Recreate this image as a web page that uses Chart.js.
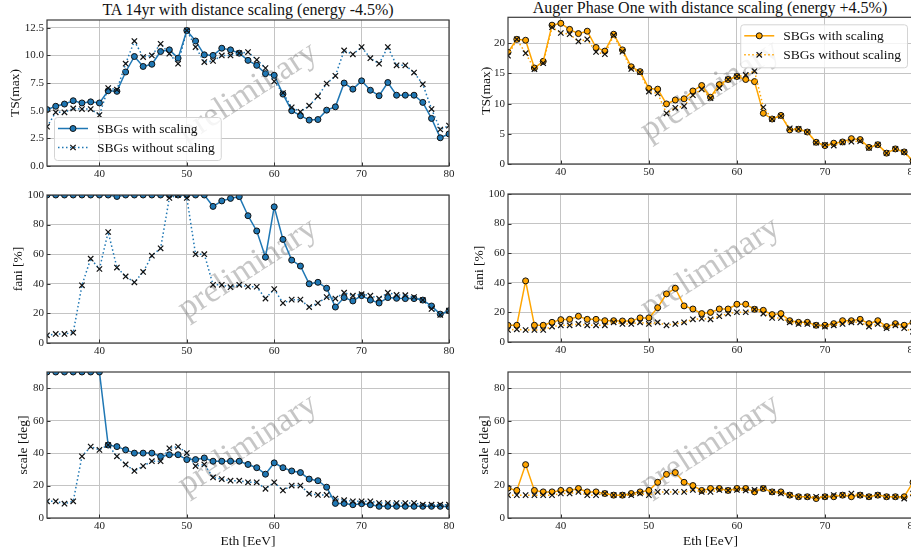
<!DOCTYPE html>
<html>
<head>
<meta charset="utf-8">
<script src="https://cdn.jsdelivr.net/npm/chart.js@4.4.1/dist/chart.umd.min.js"></script>
<style>
html, body { margin: 0; padding: 0; background: #fff; overflow: hidden; width: 911px; height: 556px; }
canvas { position: absolute; }
.ttl { position: absolute; font-family: 'Liberation Serif', serif; font-size: 16px; line-height: 18px; color: #111; text-align: center; white-space: nowrap; }
</style>
</head>
<body>
<div class="ttl" style="left:48px;width:400px;top:1px;">TA 14yr with distance scaling (energy -4.5%)</div>
<div class="ttl" style="left:510px;width:400px;top:-1px;">Auger Phase One with distance scaling (energy +4.5%)</div>
<canvas id="ta_ts" width="460" height="180" style="left:0;top:10px"></canvas>
<canvas id="ta_fani" width="460" height="182" style="left:0;top:185px"></canvas>
<canvas id="ta_scale" width="460" height="194" style="left:0;top:362px"></canvas>
<canvas id="au_ts" width="470" height="181" style="left:460px;top:7px"></canvas>
<canvas id="au_fani" width="470" height="182" style="left:460px;top:184px"></canvas>
<canvas id="au_scale" width="470" height="194" style="left:460px;top:362px"></canvas>
<script>
// threshold energies (EeV)
const energies = [34, 35, 36, 37, 38, 39, 40, 41, 42, 43, 44, 45, 46, 47, 48, 49, 50, 51, 52, 53, 54, 55, 56, 57,
  58, 59, 60, 61, 62, 63, 64, 65, 66, 67, 68, 69, 70, 71, 72, 73, 74, 75, 76, 77, 78, 79, 80];

// TA 14yr
const taTsWith = [5.1, 5.4, 5.6, 5.9, 5.7, 5.8, 5.7, 6.8, 6.75, 8.5, 9.9, 9.0, 9.2, 10.35, 10.5, 9.75, 12.25, 11.3,
  10.05, 10.0, 10.65, 10.5, 10.2, 9.55, 9.1, 8.35, 8.2, 6.5, 5.0, 4.55, 4.15, 4.2, 5.05, 5.35, 7.5, 6.95, 7.7, 6.85,
  6.35, 7.55, 6.4, 6.4, 6.4, 5.75, 4.3, 2.55, 2.9];
const taTsWithout = [3.55, 4.85, 4.85, 5.2, 5.15, 5.15, 4.6, 7.05, 6.9, 9.25, 11.3, 9.85, 10.0, 11.05, 10.15, 9.25,
  12.25, 10.75, 9.4, 9.5, 10.0, 10.0, 10.2, 10.3, 9.6, 8.85, 7.65, 6.6, 5.3, 4.9, 5.45, 6.3, 7.45, 8.15, 10.45, 10.1,
  10.75, 9.75, 9.25, 10.75, 9.1, 9.1, 8.45, 7.4, 5.15, 3.3, 3.65];
const taFaniWith = [100, 100, 100, 100, 100, 100, 100, 100, 99, 100, 100, 100, 100, 100, 100, 100, 100, 100, 100,
  92.3, 96, 97.7, 98.9, 86, 75.7, 58, 92, 70, 56, 52, 40, 41, 37, 24.3, 30.7, 28.4, 32, 29, 27, 30.7, 30.2, 30, 30,
  29, 25, 19.5, 21.8];
const taFaniWithout = [5.2, 6.1, 6.1, 7, 39, 57, 50, 75, 51, 45, 41, 48, 59, 64, 98, 100, 98, 60, 60, 39.3, 39.3,
  37.7, 39.3, 38, 38, 30, 36.4, 27, 29.3, 29.3, 24.3, 27, 31, 30, 34, 32, 33, 32, 30, 34, 32.5, 32.3, 31, 29, 23,
  19, 21.8];
const taScaleWith = [90, 90, 90, 90, 90, 90, 90, 45, 44, 42, 40, 40, 40, 38, 39, 39, 36, 36, 37, 35, 35, 35, 35, 33,
  31, 27, 34, 31, 29, 28, 24, 23, 19, 9, 9, 8.2, 8.8, 8.2, 7.2, 7.2, 7.2, 7.2, 7.2, 7.2, 7.2, 7.2, 7.0];
const taScaleWithout = [10.3, 10.3, 8.8, 10.3, 38, 44, 42, 45, 38, 33, 29, 32, 35, 35, 43, 44, 40, 32, 33, 25, 24,
  23, 23, 22, 22, 18, 22, 17, 20, 20, 15, 14.2, 14.2, 12, 11, 10.3, 10.3, 10.3, 9.2, 9.2, 9.2, 9.2, 9.2, 8.2, 8.2,
  8.2, 8.2];

// Auger Phase One
const auTsWith = [18.5, 20.65, 20.5, 15.9, 17.0, 23.0, 23.3, 22.3, 21.6, 22.0, 19.3, 18.7, 21.5, 18.9, 16.1, 15.3,
  12.5, 12.4, 9.95, 10.6, 10.8, 12.1, 13.0, 11.05, 13.15, 14.0, 14.5, 14.0, 13.65, 8.4, 7.45, 8.05, 5.65, 5.75, 5.3,
  3.6, 3.05, 3.45, 3.65, 4.2, 4.05, 2.75, 3.2, 1.8, 2.5, 2.0, 0.5];
const auTsWithout = [17.95, 20.65, 18.35, 15.7, 16.7, 22.65, 21.7, 21.5, 20.3, 20.65, 18.55, 18.2, 21.3, 18.6, 15.75,
  15.2, 12.0, 11.7, 8.4, 9.3, 9.6, 11.4, 12.4, 10.9, 12.6, 14.0, 14.5, 14.75, 15.4, 9.4, 7.45, 7.95, 5.9, 5.8, 5.3,
  3.55, 3.15, 3.05, 3.6, 3.7, 3.8, 2.65, 3.2, 1.8, 2.5, 1.95, 0.4];
const auFaniWith = [11.3, 11.3, 41.3, 11.3, 11.3, 13.3, 15.1, 15.3, 17.4, 15.3, 15.3, 14.4, 14.4, 14.2, 14.2, 16.3,
  16.3, 23.2, 32.5, 36.3, 24.4, 22.3, 19.2, 20, 22.3, 22.3, 25.5, 25.5, 22.1, 21.4, 18.5, 19.2, 14.4, 13.3, 13.3,
  11.3, 11.3, 12.4, 14.4, 14.4, 15.3, 12.4, 14.4, 10.4, 12.4, 11.3, 13.3];
const auFaniWithout = [8.1, 8.6, 8.1, 8.1, 8.1, 10.4, 11.3, 11.3, 12.2, 11.3, 11.3, 11.3, 13.3, 12.2, 12.2, 13.3,
  12.2, 13.3, 11.3, 12.2, 13.3, 15.3, 15.8, 15.3, 17.4, 19.2, 20.1, 20.1, 22.1, 19.2, 16.3, 16.3, 13.3, 12.2, 12.2,
  11.3, 10.4, 11.3, 12.2, 13.3, 13.3, 10.4, 12.2, 9.3, 11.3, 9.3, 7];
const auScaleWith = [18.4, 17, 32.9, 17, 16.1, 16.1, 17, 17, 18.2, 16.1, 16.1, 15.1, 14.1, 14.1, 15.1, 16.1, 17, 22,
  26.9, 28, 22, 20, 17, 18.2, 18.2, 17, 18.2, 18.2, 16.1, 18.2, 16.1, 16.1, 14.1, 13.1, 13.1, 12, 13.1, 13.1, 14.1,
  13.1, 14.1, 13.1, 14.1, 13.1, 13.1, 13.1, 22];
const auScaleWithout = [14.1, 14.1, 14.1, 14.1, 14.1, 14.1, 15.1, 15.1, 16.1, 14.1, 14.1, 15.1, 14.1, 14.1, 14.1,
  15.1, 14.1, 16.1, 16.1, 16.1, 16.1, 17.3, 16.1, 16.1, 17.3, 17, 17.3, 17, 17.3, 18.2, 16.1, 15.1, 14.1, 13.1, 13.1,
  13.1, 13.1, 14.1, 14.1, 15.1, 14.1, 13.1, 14.1, 13.1, 13.1, 12, 15.1];

// tick labels
const xTicks = [40, 50, 60, 70, 80];
const taTsTicks = [0, 2.5, 5, 7.5, 10, 12.5];
const auTsTicks = [0, 5, 10, 15, 20];
const faniTicks = [0, 20, 40, 60, 80, 100];
const scaleTicks = [0, 20, 40, 60, 80];

const labelWith = 'SBGs with scaling';
const labelWithout = 'SBGs without scaling';
const serif = "'Liberation Serif', 'Times New Roman', serif";

function drawMarker(ctx, style, x, y, r, fill, stroke, bw) {
  ctx.save();
  ctx.lineWidth = bw;
  ctx.strokeStyle = stroke;
  ctx.beginPath();
  if (style === 'circle') {
    ctx.fillStyle = fill;
    ctx.arc(x, y, r, 0, Math.PI * 2);
    ctx.fill();
    ctx.stroke();
  } else {
    const o = r * Math.SQRT1_2;
    ctx.moveTo(x - o, y - o); ctx.lineTo(x + o, y + o);
    ctx.moveTo(x - o, y + o); ctx.lineTo(x + o, y - o);
    ctx.stroke();
  }
  ctx.restore();
}

const decor = {
  id: 'decor',
  beforeDatasetsDraw(chart) {
    const a = chart.chartArea, ctx = chart.ctx;
    ctx.save();
    ctx.translate((a.left + a.right) / 2, (a.top + a.bottom) / 2);
    ctx.rotate(-33 * Math.PI / 180);
    ctx.font = '34px ' + serif;
    ctx.fillStyle = 'rgba(120,120,120,0.42)';
    ctx.textAlign = 'center';
    ctx.textBaseline = 'middle';
    ctx.fillText('preliminary', 0, 0);
    ctx.restore();
  },
  afterDatasetsDraw(chart, args, opts) {
    const a = chart.chartArea, ctx = chart.ctx;
    ctx.save();
    // inward ticks
    ctx.strokeStyle = '#333';
    ctx.lineWidth = 1;
    ctx.beginPath();
    chart.scales.x.ticks.forEach(t => {
      const px = Math.round(chart.scales.x.getPixelForValue(t.value)) + 0.5;
      ctx.moveTo(px, a.bottom); ctx.lineTo(px, a.bottom - 3.5);
    });
    chart.scales.y.ticks.forEach(t => {
      const py = Math.round(chart.scales.y.getPixelForValue(t.value)) + 0.5;
      ctx.moveTo(a.left, py); ctx.lineTo(a.left + 3.5, py);
    });
    ctx.stroke();
    // frame
    ctx.strokeStyle = '#3a3a3a';
    ctx.lineWidth = 1.2;
    ctx.strokeRect(a.left, a.top, a.right - a.left, a.bottom - a.top);
    ctx.restore();

    if (!opts.legend) return;
    const ds = chart.data.datasets;
    ctx.save();
    ctx.font = '13.5px ' + serif;
    const tw = Math.max(...ds.map(d => ctx.measureText(d.label).width));
    const w = 4 + 30 + 9 + tw + 6, h = 43;
    const x = opts.legend === 'left' ? a.left + 7 : a.right - 6 - w;
    const y = opts.legend === 'left' ? a.bottom - 6 - h : a.top + 7;
    ctx.fillStyle = 'rgba(255,255,255,0.82)';
    ctx.strokeStyle = '#d4d4d4';
    ctx.lineWidth = 1;
    ctx.beginPath();
    ctx.roundRect(x + 0.5, y + 0.5, w, h, 3);
    ctx.fill();
    ctx.stroke();
    ds.forEach((d, i) => {
      const ry = y + 11.5 + i * 19;
      ctx.strokeStyle = d.borderColor;
      ctx.lineWidth = d.borderWidth;
      ctx.setLineDash(d.borderDash || []);
      ctx.beginPath();
      ctx.moveTo(x + 4, ry); ctx.lineTo(x + 34, ry);
      ctx.stroke();
      ctx.setLineDash([]);
      drawMarker(ctx, d.pointStyle, x + 19, ry, d.pointRadius, d.pointBackgroundColor, d.pointBorderColor, d.pointBorderWidth);
      ctx.fillStyle = '#111';
      ctx.textBaseline = 'middle';
      ctx.textAlign = 'left';
      ctx.fillText(d.label, x + 43, ry + 1);
    });
    ctx.restore();
  }
};

function pts(vals) {
  return energies.map((e, i) => ({ x: e, y: vals[i] }));
}

function makeChart(id, c) {
  const datasets = [
    {
      label: labelWith, data: pts(c.withVals), order: 1,
      borderColor: c.color, borderWidth: 1.5,
      pointStyle: 'circle', pointRadius: 3, pointBackgroundColor: c.color,
      pointBorderColor: '#111', pointBorderWidth: 1
    },
    {
      label: labelWithout, data: pts(c.withoutVals), order: 0,
      borderColor: c.color, borderWidth: 1.5, borderDash: [1.5, 2.5],
      pointStyle: 'crossRot', pointRadius: 3.8, pointBackgroundColor: '#111',
      pointBorderColor: '#111', pointBorderWidth: 1.2
    }
  ];
  new Chart(document.getElementById(id), {
    type: 'line',
    data: { datasets },
    options: {
      responsive: false,
      animation: false,
      devicePixelRatio: 1,
      clip: 0,
      layout: { padding: { top: c.padTop, right: c.padRight, left: 0, bottom: 0 } },
      plugins: { legend: { display: false }, tooltip: { enabled: false }, decor: { legend: c.legend } },
      elements: { line: { tension: 0 } },
      scales: {
        x: {
          type: 'linear', min: 34, max: 80,
          afterBuildTicks: s => { s.ticks = xTicks.map(v => ({ value: v })); },
          afterFit: s => { s.height = c.xHeight; },
          grid: { color: '#c4c4c4', lineWidth: 1, drawTicks: false },
          border: { display: false },
          ticks: { padding: 2, color: '#222', font: { family: serif, size: 11 } },
          title: c.xTitle ? { display: true, text: c.xTitle, color: '#111', font: { family: serif, size: 13.5 }, padding: { bottom: 6 } } : { display: false }
        },
        y: {
          min: 0, max: c.yMax,
          afterBuildTicks: s => { s.ticks = c.yTicks.map(v => ({ value: v })); },
          afterFit: s => { s.width = c.yWidth; },
          grid: { color: '#c4c4c4', lineWidth: 1, drawTicks: false },
          border: { display: false },
          ticks: { padding: 3, color: '#222', font: { family: serif, size: 11 }, callback: c.yFmt || (v => v) },
          title: { display: true, text: c.yTitle, color: '#111', font: { family: serif, size: 13.5 }, padding: { top: c.yTitlePad } }
        }
      }
    },
    plugins: [decor]
  });
}

const blue = '#1f77b4';
const orange = '#ffa500';

makeChart('ta_ts', { withVals: taTsWith, withoutVals: taTsWithout, color: blue, yMax: 13.2, yTicks: taTsTicks,
  yFmt: v => v.toFixed(1), yTitle: 'TS(max)', yTitlePad: 7, yWidth: 47, xHeight: 24, padTop: 10, padRight: 11, legend: 'left' });
makeChart('ta_fani', { withVals: taFaniWith, withoutVals: taFaniWithout, color: blue, yMax: 100, yTicks: faniTicks,
  yTitle: 'fani [%]', yTitlePad: 10, yWidth: 47, xHeight: 24, padTop: 10, padRight: 11 });
makeChart('ta_scale', { withVals: taScaleWith, withoutVals: taScaleWithout, color: blue, yMax: 90, yTicks: scaleTicks,
  yTitle: 'scale [deg]', yTitlePad: 15, yWidth: 47, xHeight: 38, padTop: 10, padRight: 11, xTitle: 'Eth [EeV]' });
makeChart('au_ts', { withVals: auTsWith, withoutVals: auTsWithout, color: orange, yMax: 24.3, yTicks: auTsTicks,
  yTitle: 'TS(max)', yTitlePad: 18.5, yWidth: 48, xHeight: 24, padTop: 10.3, padRight: 17, legend: 'right' });
makeChart('au_fani', { withVals: auFaniWith, withoutVals: auFaniWithout, color: orange, yMax: 100, yTicks: faniTicks,
  yTitle: 'fani [%]', yTitlePad: 11, yWidth: 48, xHeight: 24, padTop: 10, padRight: 17 });
makeChart('au_scale', { withVals: auScaleWith, withoutVals: auScaleWithout, color: orange, yMax: 90, yTicks: scaleTicks,
  yTitle: 'scale [deg]', yTitlePad: 16, yWidth: 48, xHeight: 38, padTop: 10, padRight: 17, xTitle: 'Eth [EeV]' });
</script>
</body>
</html>
